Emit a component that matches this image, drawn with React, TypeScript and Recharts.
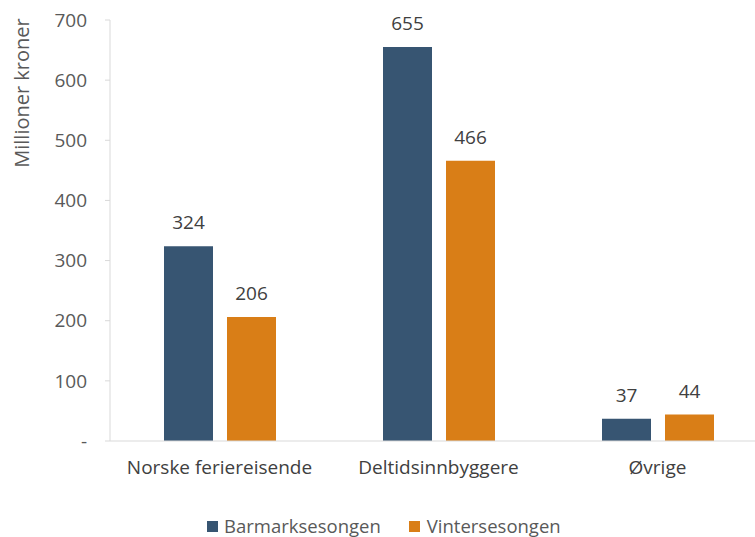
import React from "react";
import { BarChart, Bar, XAxis, YAxis, Legend, LabelList } from "recharts";

const categories = ["Norske feriereisende", "Deltidsinnbyggere", "Øvrige"];
const barmark = [324, 655, 37];
const vinter = [206, 466, 44];
const yTicks = [0, 100, 200, 300, 400, 500, 600, 700];

const data = categories.map((c, i) => ({ name: c, barmark: barmark[i], vinter: vinter[i] }));

const FONT = "'Open Sans', sans-serif";
const BLUE = "#375572";
const ORANGE = "#D97E17";
const FS = 19;

const YLabel = (props: any) => {
  const vb = props.viewBox || { x: 0, y: 0 };
  const x = 29;
  const y = vb.y + 73;
  return (
    <text x={x} y={y} transform={`rotate(-90, ${x}, ${y})`} textAnchor="middle" fill="#595959" fontSize={20} fontFamily={FONT}>
      Millioner kroner
    </text>
  );
};

const renderLegend = () => (
  <div style={{ display: "flex", justifyContent: "flex-start", paddingLeft: 207, paddingTop: 14, fontFamily: FONT, fontSize: 18.5, color: "#595959", lineHeight: "22px" }}>
    <div style={{ display: "flex", alignItems: "center", marginRight: 28 }}>
      <span style={{ width: 11, height: 11, background: BLUE, display: "inline-block", marginRight: 6 }} />
      Barmarksesongen
    </div>
    <div style={{ display: "flex", alignItems: "center" }}>
      <span style={{ width: 11, height: 11, background: ORANGE, display: "inline-block", marginRight: 7 }} />
      Vintersesongen
    </div>
  </div>
);

export default function App() {
  return (
    <div style={{ position: "absolute", left: 0, top: 0, width: 755, height: 537, overflow: "hidden", background: "#fff" }}>
      <BarChart
        width={767}
        height={537}
        data={data}
        margin={{ top: 20, right: 0, left: 0, bottom: 0 }}
        barGap={14}
        barSize={49}
      >
        <XAxis
          dataKey="name"
          axisLine={{ stroke: "#d9d9d9", strokeWidth: 1 }}
          tickLine={false}
          tick={{ fill: "#404040", fontSize: FS, fontFamily: FONT }}
          tickMargin={14}
          height={60}
        />
        <YAxis
          width={110}
          domain={[0, 700]}
          ticks={yTicks}
          interval={0}
          axisLine={{ stroke: "#d9d9d9", strokeWidth: 1 }}
          tickLine={{ stroke: "#d9d9d9" }}
          tickSize={5}
          tickMargin={18}
          tick={{ fill: "#595959", fontSize: FS, fontFamily: FONT }}
          tickFormatter={(v: number) => (v === 0 ? "-" : String(v))}
          label={<YLabel />}
        />
        <Legend verticalAlign="bottom" height={36} content={renderLegend} />
        <Bar dataKey="barmark" name="Barmarksesongen" fill={BLUE} isAnimationActive={false}>
          <LabelList dataKey="barmark" position="top" offset={17} fill="#404040" fontSize={FS} fontFamily={FONT} />
        </Bar>
        <Bar dataKey="vinter" name="Vintersesongen" fill={ORANGE} isAnimationActive={false}>
          <LabelList dataKey="vinter" position="top" offset={17} fill="#404040" fontSize={FS} fontFamily={FONT} />
        </Bar>
      </BarChart>
    </div>
  );
}
